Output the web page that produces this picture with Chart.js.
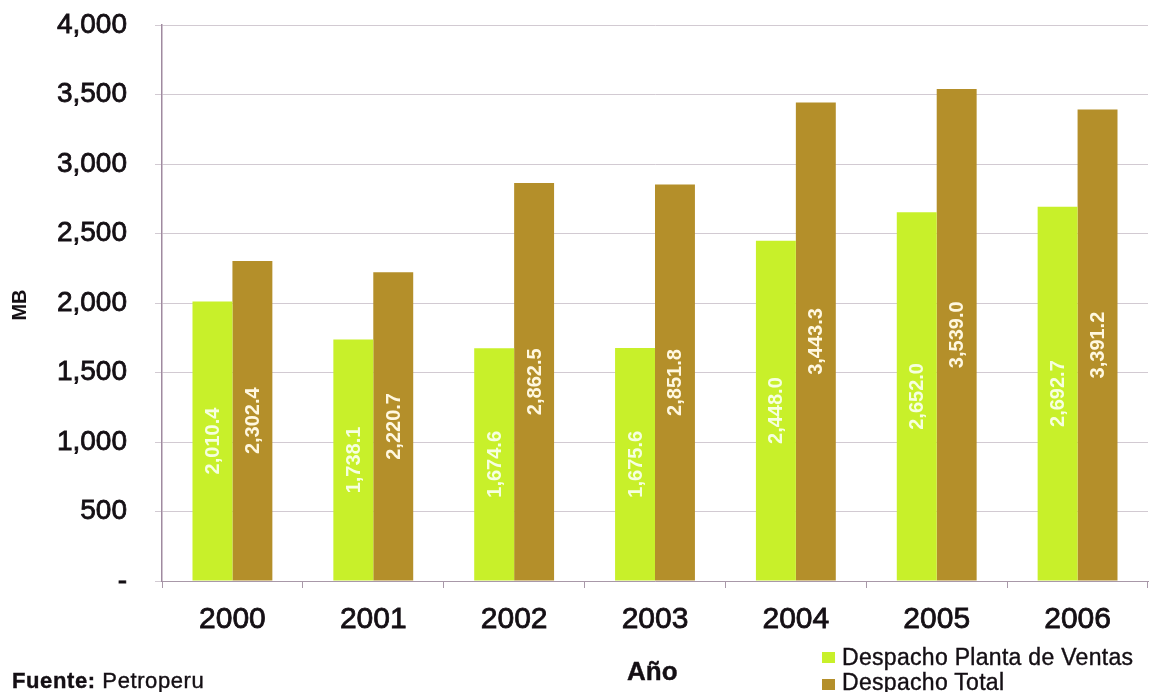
<!DOCTYPE html>
<html>
<head>
<meta charset="utf-8">
<script src="https://cdn.jsdelivr.net/npm/chart.js@4/dist/chart.umd.min.js"></script>
<style>
  html, body { margin: 0; padding: 0; background: #fff; }
  #wrap { position: relative; width: 1157px; height: 692px; overflow: hidden; font-family: 'Liberation Sans', Arial, sans-serif; color: #140f14; }
  canvas { position: absolute; left: 0; top: 0; }
  .txt { position: absolute; white-space: nowrap; line-height: 1; -webkit-text-stroke: 0.4px #140f14; }
  .sw { position: absolute; width: 13px; height: 11px; }
</style>
</head>
<body>
<div id="wrap">
  <canvas id="c" width="1157" height="692"></canvas>
  <div class="txt" style="left:12px; top:670px; font-size:22px; letter-spacing:0.6px;"><b>Fuente:</b> Petroperu</div>
  <div class="txt" style="left:627px; top:658px; font-size:26px; font-weight:bold;">Año</div>
  <div class="sw" style="left:822px; top:652px; background:#c8f02a;"></div>
  <div class="txt" style="left:842px; top:646px; font-size:23px; letter-spacing:0.3px;">Despacho Planta de Ventas</div>
  <div class="sw" style="left:822px; top:679px; background:#b48f2a;"></div>
  <div class="txt" style="left:842px; top:671px; font-size:23px; letter-spacing:0.3px;">Despacho Total</div>
</div>
<script>
const years = ['2000', '2001', '2002', '2003', '2004', '2005', '2006'];
const plantaVentas = [2010.4, 1738.1, 1674.6, 1675.6, 2448.0, 2652.0, 2692.7];
const despachoTotal = [2302.4, 2220.7, 2862.5, 2851.8, 3443.3, 3539.0, 3391.2];
const seriesNames = ['Despacho Planta de Ventas', 'Despacho Total'];

const FONT = "'Liberation Sans', Arial, sans-serif";

const fmt = v => v.toLocaleString('en-US', { minimumFractionDigits: 1, maximumFractionDigits: 1 });

// Vertical value labels centred inside each bar
const barValueLabels = {
  id: 'barValueLabels',
  afterDatasetsDraw(chart) {
    const ctx = chart.ctx;
    ctx.save();
    ctx.font = 'bold 20px ' + FONT;
    ctx.textAlign = 'center';
    ctx.textBaseline = 'middle';
    chart.data.datasets.forEach((ds, di) => {
      const meta = chart.getDatasetMeta(di);
      meta.data.forEach((bar, i) => {
        const cy = (bar.y + bar.base) / 2;
        ctx.save();
        ctx.translate(bar.x, cy);
        ctx.rotate(-Math.PI / 2);
        ctx.fillStyle = di === 0 ? '#f6ffe0' : '#fff8e0';
        ctx.fillText(fmt(ds.data[i]), 0, 1);
        ctx.restore();
      });
    });
    ctx.restore();
  }
};

// Rotated y-axis caption
const yCaption = {
  id: 'yCaption',
  afterDraw(chart) {
    const ctx = chart.ctx;
    ctx.save();
    ctx.font = 'bold 20px ' + FONT;
    ctx.fillStyle = '#140f14';
    ctx.textAlign = 'center';
    ctx.textBaseline = 'middle';
    ctx.translate(20, 305);
    ctx.rotate(-Math.PI / 2);
    ctx.fillText('MB', 0, 0);
    ctx.restore();
  }
};

new Chart(document.getElementById('c'), {
  type: 'bar',
  data: {
    labels: years,
    datasets: [
      { label: seriesNames[0], data: plantaVentas, backgroundColor: '#c8f02a', borderWidth: 0 },
      { label: seriesNames[1], data: despachoTotal, backgroundColor: '#b48f2a', borderWidth: 0 }
    ]
  },
  options: {
    responsive: false,
    devicePixelRatio: 1,
    animation: false,
    layout: { autoPadding: false, padding: { left: 0, top: 25, right: 9, bottom: 0 } },
    datasets: { bar: { categoryPercentage: 0.567, barPercentage: 1.0 } },
    plugins: {
      legend: { display: false },
      tooltip: { enabled: false }
    },
    scales: {
      x: {
        grid: { display: true, drawOnChartArea: false, tickLength: 7, color: '#a898a8', offset: true },
        border: { display: true, color: '#a898a8', width: 1 },
        ticks: {
          font: { family: FONT, size: 30 }, color: '#140f14', padding: 14, maxRotation: 0,
          textStrokeColor: '#140f14', textStrokeWidth: 0.8
        },
        afterFit(scale) { scale.height = 111; scale.paddingLeft = 0; scale.paddingRight = 0; }
      },
      y: {
        min: 0,
        max: 4000,
        grid: { color: '#d2cad2', tickLength: 7 },
        border: { display: true, color: '#a08aa0', width: 1.5 },
        ticks: {
          stepSize: 500,
          font: { family: FONT, size: 28 },
          color: '#140f14',
          padding: 28,
          textStrokeColor: '#140f14',
          textStrokeWidth: 0.8,
          callback: v => (v === 0 ? '-' : v.toLocaleString('en-US'))
        },
        afterFit(scale) { scale.width = 162; scale.paddingTop = 0; scale.paddingBottom = 0; }
      }
    }
  },
  plugins: [barValueLabels, yCaption]
});
</script>
</body>
</html>
